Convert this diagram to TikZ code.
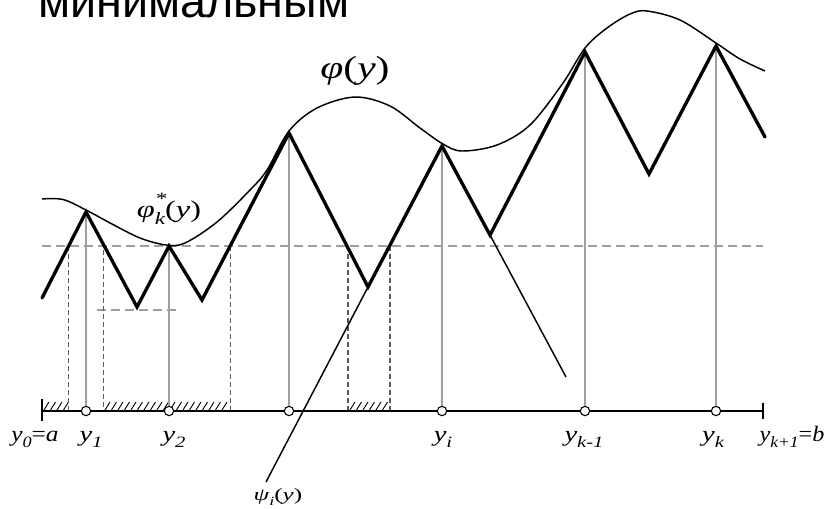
\documentclass[tikz,border=0pt]{standalone}
\usepackage{graphicx}
\usepackage{fontspec}
\newfontfamily\titlefont{Liberation Sans}
\newfontfamily\tnr{Liberation Serif}
\newcommand\lsub[1]{\raisebox{-0.3em}{\scalebox{0.72}{\itshape #1}}}
\newcommand\lsup[1]{\makebox[0pt][l]{\raisebox{0.55em}{\scalebox{0.72}{#1}}}}
\newcommand\lpar[1]{{\upshape(}#1{\upshape)}}
\begin{document}
\begin{tikzpicture}[x=0.75pt,y=-0.75pt,
  thick zig/.style={line width=2.5pt,line join=miter,line cap=round},
  thinline/.style={line width=1.1pt},
  guide/.style={gray!75,line width=1pt},
  hdash/.style={gray!75,line width=1.4pt,dash pattern=on 7pt off 3.5pt},
  vdash/.style={black!65,line width=0.8pt,dash pattern=on 3.6pt off 2.4pt},
  axisline/.style={line width=1.8pt},
  pt/.style={circle,draw,fill=white,line width=0.8pt,inner sep=0pt,minimum size=7pt},
  lab/.style={font=\tnr\itshape\fontsize{16.5}{16.5}\selectfont,inner sep=0pt,anchor=base}]
\clip (0,0) rectangle (825,508);
\fill[white] (0,0) rectangle (825,508);

% title
\node[anchor=base west,inner sep=0pt,font=\titlefont\fontsize{35}{35}\selectfont] (title) at (38,17) {минимальным};

% peaks and troughs
\coordinate (s) at (42,298);
\coordinate (p1) at (86,212);
\coordinate (t1) at (137,307);
\coordinate (p2) at (169,246);
\coordinate (t2) at (202,300);
\coordinate (p3) at (289,133);
\coordinate (t3) at (368,287);
\coordinate (pi) at (442,146);
\coordinate (t4) at (490,235);
\coordinate (pk1) at (585,52);
\coordinate (t5) at (649,174);
\coordinate (pk) at (716,46);
\coordinate (e) at (765,137);
\coordinate (psiend) at (266,482);
\coordinate (rend) at (566,377);

% axis
\coordinate (a) at (42,411);
\coordinate (b) at (763,411);

% hatching
\foreach \x in {44,50.5,...,64} {\draw[line width=0.7pt] (\x,410) -- (\x+5,402);}
\foreach \x in {105,111.5,...,228} {\draw[line width=0.7pt] (\x,410) -- (\x+5,402);}
\foreach \x in {350,356.5,...,388} {\draw[line width=0.7pt] (\x,410) -- (\x+5,402);}

% dashed horizontal level
\draw[hdash] (42,246) -- (763,246);
\draw[hdash] (97,310) -- (179,310);

% dashed verticals
\draw[vdash] (68.5,246) -- (68.5,410);
\draw[vdash] (103.5,250) -- (103.5,410);
\draw[vdash] (230.5,246) -- (230.5,410);
\draw[vdash] (348,246) -- (348,410);
\draw[vdash] (390,246) -- (390,410);

% axis line and ticks
\draw[axisline] (a) -- (b);
\draw[line width=1.6pt] (42,399) -- (42,421);
\draw[line width=1.6pt] (763,403) -- (763,419);

% guide verticals and circles
\foreach \n/\c/\x in {c1/p1/86, c2/p2/169, c3/p3/289, ci/pi/442, ck1/pk1/585, ck/pk/716} {
  \node[pt] (\n) at (\x,411) {};
  \draw[guide] (\n.north) -- (\c);
}

% phi curve
\draw[line width=1.1pt] plot[smooth,tension=0.55] coordinates {
 (42,199) (63,199.5) (86,210) (112,224) (140,238) (166,245) (185,243) (217,222)
 (250,190) (267,170) (289,131) (317,108) (355,97) (390,106) (420,128)
 (443,144) (462,151) (497,145) (530,125) (563,83) (585,48) (607,28) (630,14)
 (647,11) (680,20) (716,43) (740,59) (765,71)};

% thin continuation lines
\draw[thinline] (t3) -- (psiend);
\draw[thinline] (t4) -- (rend);

% thick zigzag
\draw[thick zig] (s) -- (p1) -- (t1) -- (p2) -- (t2) -- (p3) -- (t3) -- (pi) -- (t4) -- (pk1) -- (t5) -- (pk) -- (e);

% labels
\node[font=\tnr\itshape\fontsize{24}{24}\selectfont,inner sep=0pt] (phil) at (355,71) {\scalebox{1.3}[1]{φ\lpar{y}}};
\node[font=\tnr\itshape\fontsize{18}{18}\selectfont,inner sep=0pt] (phikl) at (169,209) {\scalebox{1.35}[1]{φ\lsup{*}\lsub{k}\lpar{y}}};
\node[lab] (l0) at (35,441) {\scalebox{1.15}[1]{y\lsub{0}{\upshape=}a}};
\node[lab] (l1) at (91,441) {\scalebox{1.3}[1]{y\lsub{1}}};
\node[lab] (l2) at (174,441) {\scalebox{1.3}[1]{y\lsub{2}}};
\node[lab] (li) at (443,441) {\scalebox{1.3}[1]{y\lsub{i}}};
\node[lab] (lk1) at (584,441) {\scalebox{1.3}[1]{y\lsub{k-1}}};
\node[lab] (lk) at (713,441) {\scalebox{1.3}[1]{y\lsub{k}}};
\node[lab] (lb) at (792,441) {\scalebox{1.1}[1]{y\lsub{k+1}{\upshape=}b}};
\node[font=\tnr\itshape\fontsize{13}{13}\selectfont,inner sep=0pt] (psil) at (278,497) {\scalebox{1.45}[1]{ψ\lsub{i}\lpar{y}}};
\end{tikzpicture}
\end{document}
